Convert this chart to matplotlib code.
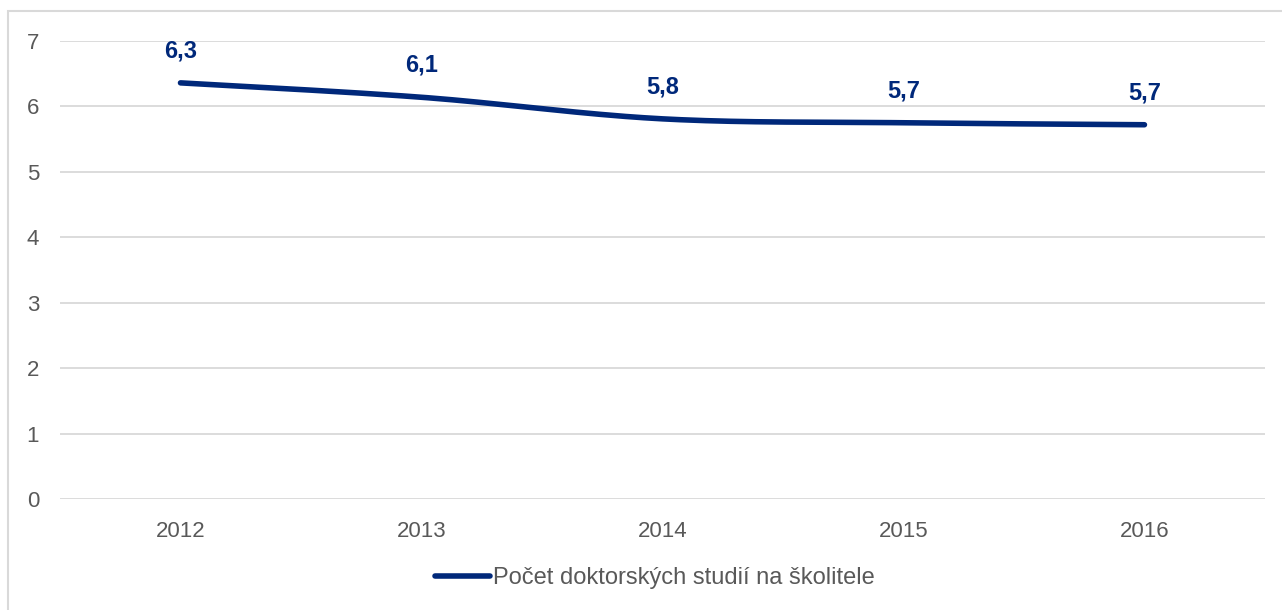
import matplotlib.pyplot as plt
import numpy as np
from matplotlib.patches import Rectangle

plt.rcParams['font.family'] = ['Liberation Sans', 'DejaVu Sans']

years = ["2012", "2013", "2014", "2015", "2016"]
values = [6.36, 6.14, 5.81, 5.75, 5.72]
labels = ["6,3", "6,1", "5,8", "5,7", "5,7"]
series_name = "Počet doktorských studií na školitele"

line_color = "#00287A"
text_color = "#595959"
grid_color = "#D9D9D9"


def smooth_curve(x, y, n=40, tension=1 / 6):
    # Excel-like smoothing: cubic Bezier segments from Catmull-Rom tangents
    x = np.asarray(x, float)
    y = np.asarray(y, float)
    px, py = [], []
    for i in range(len(x) - 1):
        x0, y0 = (x[i - 1], y[i - 1]) if i > 0 else (x[i], y[i])
        x3, y3 = (x[i + 2], y[i + 2]) if i + 2 < len(x) else (x[i + 1], y[i + 1])
        c1x = x[i] + (x[i + 1] - x0) * tension
        c1y = y[i] + (y[i + 1] - y0) * tension
        c2x = x[i + 1] - (x3 - x[i]) * tension
        c2y = y[i + 1] - (y3 - y[i]) * tension
        t = np.linspace(0, 1, n)
        px.extend((1 - t) ** 3 * x[i] + 3 * (1 - t) ** 2 * t * c1x + 3 * (1 - t) * t ** 2 * c2x + t ** 3 * x[i + 1])
        py.extend((1 - t) ** 3 * y[i] + 3 * (1 - t) ** 2 * t * c1y + 3 * (1 - t) * t ** 2 * c2y + t ** 3 * y[i + 1])
    return np.array(px), np.array(py)


fig = plt.figure(figsize=(12.82, 6.1), dpi=100)
ax = fig.add_axes([0.0468, 0.182, 0.9399, 0.7508])

xs = np.arange(len(years))
sx, sy = smooth_curve(xs, values)
ax.plot(sx, sy, color=line_color, lw=4, solid_capstyle="round", label=series_name)

for x, v, lab in zip(xs, values, labels):
    ax.annotate(lab, (x, v), xytext=(0, 23), textcoords="offset points",
                ha="center", va="center", fontsize=17, fontweight="bold", color=line_color)

ax.set_xlim(-0.5, 4.5)
ax.set_ylim(0, 7)
ax.set_yticks(range(0, 8))
ax.set_xticks(xs)
ax.set_xticklabels(years)
ax.grid(axis="y", color=grid_color, lw=1.3)
ax.set_axisbelow(True)
for s in ax.spines.values():
    s.set_visible(False)
ax.tick_params(length=0, labelsize=16, labelcolor=text_color)
ax.tick_params(axis="y", pad=15)
ax.tick_params(axis="x", pad=16)

fig.legend(loc="center", bbox_to_anchor=(0.511, 1 - 578 / 610), frameon=False,
           fontsize=17, labelcolor=text_color, handlelength=2.3, handletextpad=0.15)

fig.patches.append(Rectangle((8 / 1282, -0.1), 1.2, 1 - 11 / 610 + 0.1, transform=fig.transFigure,
                             fill=False, edgecolor=grid_color, lw=1.5))

fig.savefig("out.png", dpi=100)
